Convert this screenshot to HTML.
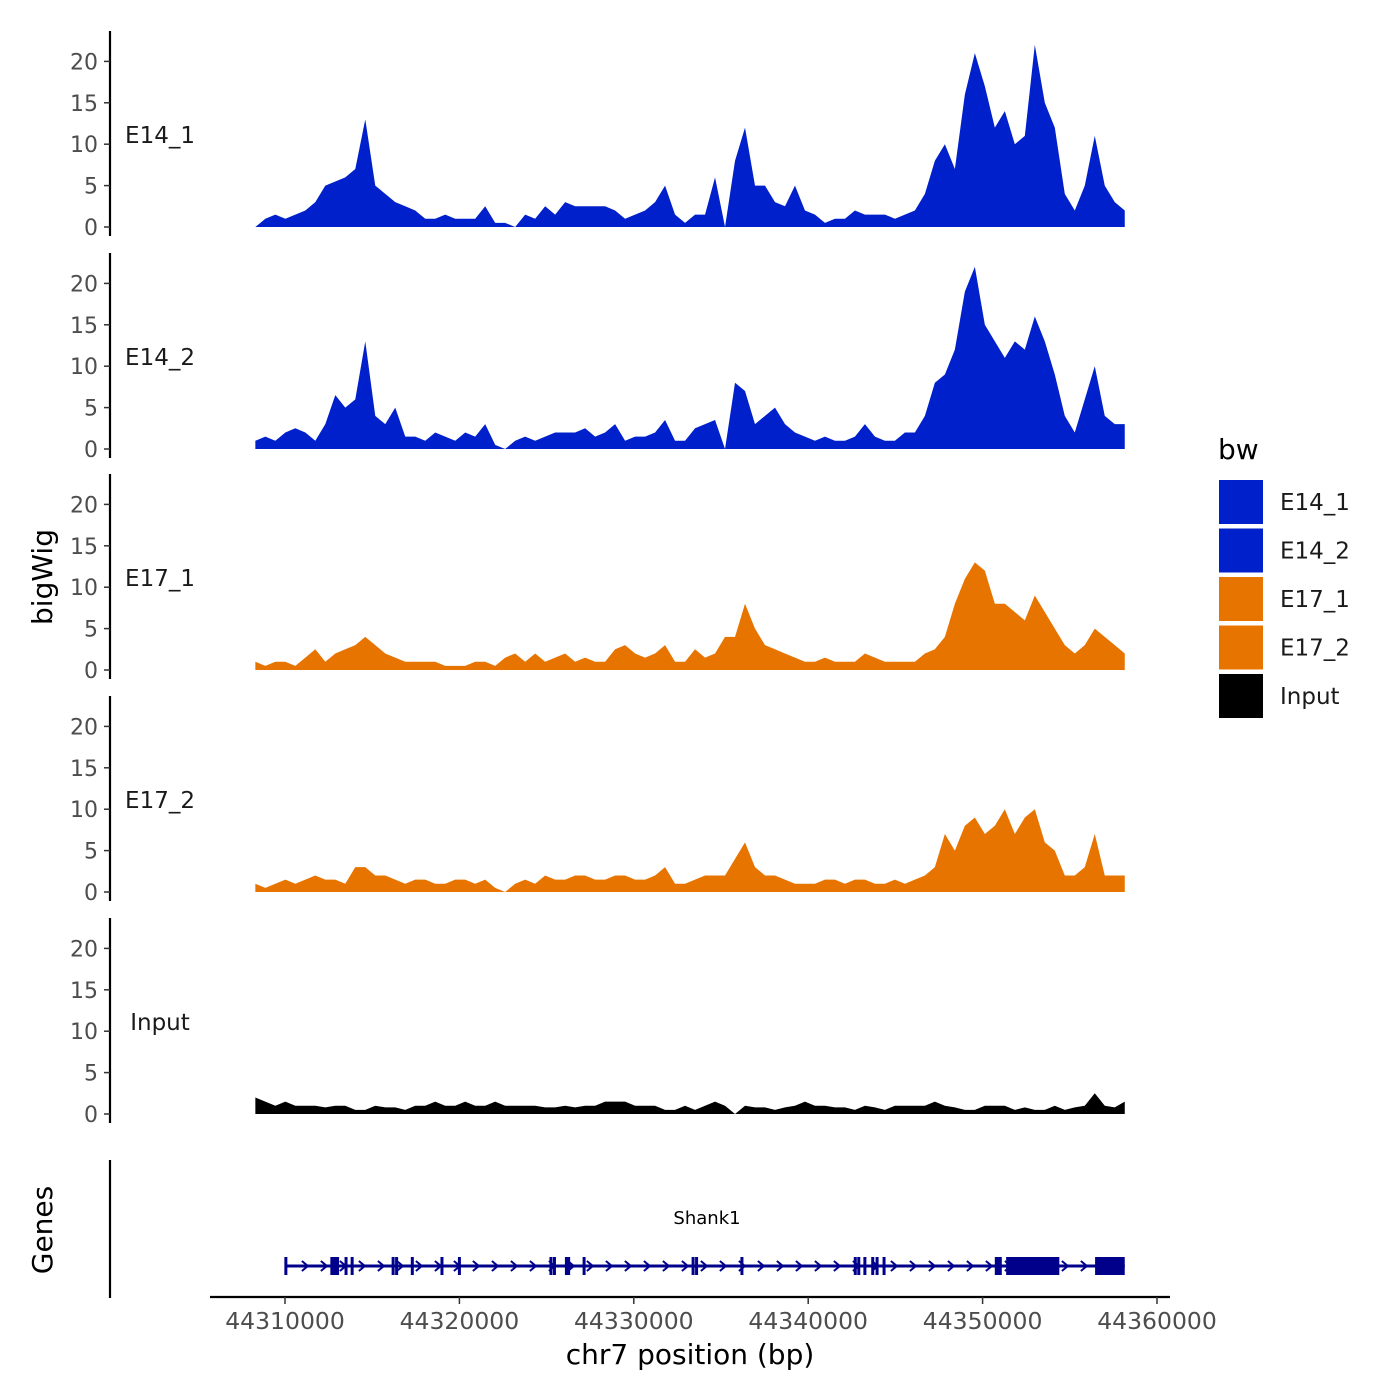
<!DOCTYPE html>
<html><head><meta charset="utf-8"><style>
html,body{margin:0;padding:0;background:#fff}
svg{display:block;font-family:"DejaVu Sans","Liberation Sans",sans-serif}
</style></head><body>
<svg id="c" width="1400" height="1400" viewBox="0 0 1400 1400"></svg>
<script>
const tracks=["E14_1","E14_2","E17_1","E17_2","Input"];
const colors=["#0020CC","#0020CC","#E87400","#E87400","#000000"];
const posStart=44308300, posStep=573;
const e14_1=[0,1,1.5,1,1.5,2,3,5,5.5,6,7,13,5,4,3,2.5,2,1,1,1.5,1,1,1,2.5,0.5,0.5,0,1.5,1,2.5,1.5,3,2.5,2.5,2.5,2.5,2,1,1.5,2,3,5,1.5,0.5,1.5,1.5,6,0,8,12,5,5,3,2.5,5,2,1.5,0.5,1,1,2,1.5,1.5,1.5,1,1.5,2,4,8,10,7,16,21,17,12,14,10,11,22,15,12,4,2,5,11,5,3,2];
const e14_2=[1,1.5,1,2,2.5,2,1,3,6.5,5,6,13,4,3,5,1.5,1.5,1,2,1.5,1,2,1.5,3,0.5,0,1,1.5,1,1.5,2,2,2,2.5,1.5,2,3,1,1.5,1.5,2,3.5,1,1,2.5,3,3.5,0,8,7,3,4,5,3,2,1.5,1,1.5,1,1,1.5,3,1.5,1,1,2,2,4,8,9,12,19,22,15,13,11,13,12,16,13,9,4,2,6,10,4,3,3];
const e17_1=[1,0.5,1,1,0.5,1.5,2.5,1,2,2.5,3,4,3,2,1.5,1,1,1,1,0.5,0.5,0.5,1,1,0.5,1.5,2,1,2,1,1.5,2,1,1.5,1,1,2.5,3,2,1.5,2,3,1,1,2.5,1.5,2,4,4,8,5,3,2.5,2,1.5,1,1,1.5,1,1,1,2,1.5,1,1,1,1,2,2.5,4,8,11,13,12,8,8,7,6,9,7,5,3,2,3,5,4,3,2];
const e17_2=[1,0.5,1,1.5,1,1.5,2,1.5,1.5,1,3,3,2,2,1.5,1,1.5,1.5,1,1,1.5,1.5,1,1.5,0.5,0,1,1.5,1,2,1.5,1.5,2,2,1.5,1.5,2,2,1.5,1.5,2,3,1,1,1.5,2,2,2,4,6,3,2,2,1.5,1,1,1,1.5,1.5,1,1.5,1.5,1,1,1.5,1,1.5,2,3,7,5,8,9,7,8,10,7,9,10,6,5,2,2,3,7,2,2,2];
const input=[2,1.5,1,1.5,1,1,1,0.8,1,1,0.5,0.5,1,0.8,0.8,0.5,1,1,1.5,1,1,1.5,1,1,1.5,1,1,1,1,0.8,0.8,1,0.8,1,1,1.5,1.5,1.5,1,1,1,0.5,0.5,1,0.5,1,1.5,1,0,1,0.8,0.8,0.5,0.8,1,1.5,1,1,0.8,0.8,0.5,1,0.8,0.5,1,1,1,1,1.5,1,0.8,0.5,0.5,1,1,1,0.5,0.8,0.5,0.5,1,0.5,0.8,1,2.5,1,0.8,1.5];
const series=[e14_1,e14_2,e17_1,e17_2,input];
const yTicks=[0,5,10,15,20];
const xTicks=[44310000,44320000,44330000,44340000,44350000,44360000];
const exonsThin=[44310050,44313500,44313850,44316200,44316400,44317300,44319000,44320000,44325250,44325450,44327150,44333400,44333600,44336200,44342700,44342900,44343250,44343700,44343950,44344350];
const exonsBox=[[44312600,44313100],[44326050,44326350],[44350700,44351100],[44351350,44354400],[44356450,44358150]];
const geneStart=44310050, geneEnd=44358150;

const NS="http://www.w3.org/2000/svg";
const svg=document.getElementById('c');
function mk(t,a,p){const e=document.createElementNS(NS,t);for(const k in a)e.setAttribute(k,a[k]);(p||svg).appendChild(e);return e;}
const X=p=>285+(p-44310000)*(872/50000);
const zeroY=[227,449,670,892,1114];
const Y=(i,v)=>zeroY[i]-v*8.28;

tracks.forEach((name,i)=>{
  const g=mk('g',{});
  
  
  const ax=mk('line',{x1:110,x2:110,y1:zeroY[i]-196,y2:zeroY[i]+9,stroke:'#000','stroke-width':2.2},g);
  
  
  yTicks.forEach(t=>{
    mk('line',{x1:104,x2:110,y1:Y(i,t),y2:Y(i,t),stroke:'#333','stroke-width':1.5},g);
    const tx=mk('text',{x:98,y:Y(i,t)+8,'text-anchor':'end','font-size':22,fill:'#4d4d4d'},g);
    tx.textContent=t;
    
    
  });
  const lb=mk('text',{x:160,y:zeroY[i]-84,'text-anchor':'middle','font-size':23,fill:'#1a1a1a'},g);
  lb.textContent=name;
  
  
  const vals=series[i];
  let d='M'+X(posStart)+','+zeroY[i];
  vals.forEach((v,j)=>{const p=posStart+j*posStep;d+=' L'+X(p)+','+Y(i,v);});
  d+=' L'+X(posStart+(vals.length-1)*posStep)+','+zeroY[i]+' Z';
  const a=mk('path',{d:d,fill:colors[i]},g);
  
  
});

const yt=mk('text',{x:52,y:577,'text-anchor':'middle','font-size':28,transform:'rotate(-90 52 577)'});
yt.textContent='bigWig';

const gt=mk('text',{x:52,y:1230,'text-anchor':'middle','font-size':28,transform:'rotate(-90 52 1230)'});
gt.textContent='Genes';
const ga=mk('line',{x1:110,x2:110,y1:1160,y2:1298,stroke:'#000','stroke-width':2.2});

const gg=mk('g',{});

mk('line',{x1:X(geneStart),x2:X(geneEnd),y1:1266,y2:1266,stroke:'#00008B','stroke-width':3},gg);
for(let x=X(geneStart)+20;x<X(geneEnd)-10;x+=19){
  mk('path',{d:`M${x-4},${1261} L${x+2},${1266} L${x-4},${1271}`,fill:'none',stroke:'#00008B','stroke-width':2},gg);
}
exonsThin.forEach(p=>{mk('rect',{x:X(p)-1.5,y:1257,width:3,height:18,fill:'#00008B'},gg);});
exonsBox.forEach(b=>{mk('rect',{x:X(b[0]),y:1257,width:X(b[1])-X(b[0]),height:18,fill:'#00008B'},gg);});
const gl=mk('text',{x:707,y:1224,'text-anchor':'middle','font-size':18,fill:'#000'});
gl.textContent='Shank1';

const xa=mk('line',{x1:210,x2:1170,y1:1297,y2:1297,stroke:'#000','stroke-width':2.2});

xTicks.forEach(t=>{
  mk('line',{x1:X(t),x2:X(t),y1:1297,y2:1304,stroke:'#333','stroke-width':1.5});
  const tx=mk('text',{x:X(t),y:1329,'text-anchor':'middle','font-size':23.5,fill:'#4d4d4d'});
  tx.textContent=t;
});
const xt=mk('text',{x:690,y:1364,'text-anchor':'middle','font-size':28});
xt.textContent='chr7 position (bp)';

const lg=mk('g',{});

const lt=mk('text',{x:1218,y:459,'font-size':28},lg);lt.textContent='bw';
tracks.forEach((n,k)=>{
  const y=480+k*48.5;
  const r=mk('rect',{x:1219,y:y,width:44,height:44,fill:colors[k]},lg);
  
  const t=mk('text',{x:1280,y:y+30,'font-size':23,fill:'#1a1a1a'},lg);t.textContent=n;
  
});
</script>
</body></html>
